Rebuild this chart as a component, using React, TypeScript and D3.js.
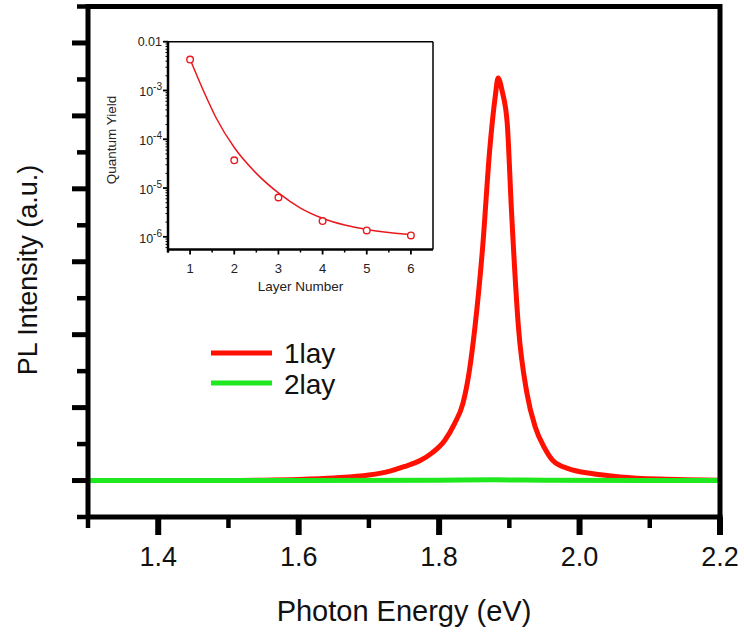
import React from "react";
import * as d3 from "d3";

// Main PL spectra (photon energy in eV, intensity in arbitrary units)
const energy1 = [1.30, 1.40, 1.50, 1.55, 1.60, 1.65, 1.70, 1.73, 1.75, 1.773, 1.79, 1.808, 1.822, 1.834, 1.843, 1.851, 1.862, 1.872, 1.880, 1.884, 1.890, 1.897, 1.903, 1.913, 1.925, 1.937, 1.95, 1.962, 1.985, 2.015, 2.058, 2.115, 2.20];
const intensity1 = [0.0, 0.0, 0.0, 0.005, 0.015, 0.035, 0.075, 0.13, 0.19, 0.275, 0.38, 0.55, 0.78, 1.06, 1.5, 2.1, 3.2, 4.53, 5.27, 5.52, 5.33, 4.9, 3.71, 2.1, 1.2, 0.73, 0.45, 0.275, 0.16, 0.1, 0.05, 0.02, 0.005];
const energy2 = [1.30, 1.60, 1.80, 1.88, 1.95, 2.20];
const intensity2 = [0.0, 0.0, 0.005, 0.01, 0.005, 0.0];
const xTicks = [1.3, 1.4, 1.5, 1.6, 1.7, 1.8, 1.9, 2.0, 2.1, 2.2];
const xTickLabels = ["", "1.4", "", "1.6", "", "1.8", "", "2.0", "", "2.2"];
const yTicks = [-0.5, 0, 0.5, 1, 1.5, 2, 2.5, 3, 3.5, 4, 4.5, 5, 5.5, 6, 6.5];
const legendNames = ["1lay", "2lay"];

// Inset: quantum yield vs layer number
const layers = [1, 2, 3, 4, 5, 6];
const quantumYield = [4.3e-3, 3.7e-5, 6.4e-6, 2.1e-6, 1.35e-6, 1.07e-6];
const fitLayers = [1.0, 1.3, 1.6, 2.0, 2.5, 3.0, 3.5, 4.0, 4.5, 5.0, 5.5, 6.0];
const fitYield = [4.37e-3, 1.0e-3, 2.63e-4, 6.76e-5, 2.0e-5, 7.94e-6, 3.89e-6, 2.4e-6, 1.74e-6, 1.41e-6, 1.23e-6, 1.12e-6];
const insetXTicks = [1, 2, 3, 4, 5, 6];
const insetYMajor = [1e-6, 1e-5, 1e-4, 1e-3, 1e-2];
const insetYLabels = ["-6", "-5", "-4", "-3", "0.01"];

const FONT = "'Liberation Sans', Arial, Helvetica, sans-serif";
const RED = "#ff1000";
const GREEN = "#1fe81f";

export default function App() {
  const x = d3.scaleLinear().domain([1.3, 2.2]).range([88, 720]);
  const y = d3.scaleLinear().domain([-0.5, 6.5]).range([517, 6.5]);

  const s1 = energy1.map((e, i) => [e, intensity1[i]] as [number, number]);
  const s2 = energy2.map((e, i) => [e, intensity2[i]] as [number, number]);
  const line = d3
    .line<[number, number]>()
    .x((d) => x(d[0]))
    .y((d) => y(d[1]))
    .curve(d3.curveMonotoneX);

  // inset scales
  const ix = d3.scaleLinear().domain([0.5, 6.5]).range([168, 433]);
  const iy = d3.scaleLog().domain([Math.pow(10, -6.26), 0.01]).range([249.5, 41.7]);
  const fitPts = fitLayers.map((l, i) => [l, fitYield[i]] as [number, number]);
  const fitLine = d3
    .line<[number, number]>()
    .x((d) => ix(d[0]))
    .y((d) => iy(d[1]))
    .curve(d3.curveMonotoneX);

  const insetMinorY: number[] = [];
  for (let e = -7; e <= -3; e++) {
    for (let k = 2; k <= 9; k++) {
      const v = k * Math.pow(10, e);
      if (v >= iy.domain()[0] && v <= 0.01) insetMinorY.push(v);
    }
  }
  const insetMinorX = [0.5, 1.5, 2.5, 3.5, 4.5, 5.5];

  return (
    <svg
      width={744}
      height={635}
      style={{ position: "absolute", left: 0, top: 0, background: "#fff" }}
      fontFamily={FONT}
    >
      <rect x={0} y={0} width={744} height={635} fill="#fff" />

      {/* series */}
      <path d={line(s1) || ""} fill="none" stroke={RED} strokeWidth={5} strokeLinejoin="round" />
      <path d={line(s2) || ""} fill="none" stroke={GREEN} strokeWidth={5} />

      {/* frame */}
      <line x1={x(1.3)} x2={x(2.2)} y1={y(6.5)} y2={y(6.5)} stroke="#000" strokeWidth={5} />
      <line x1={x(2.2)} x2={x(2.2)} y1={y(6.5) - 2.5} y2={y(-0.5)} stroke="#000" strokeWidth={5} />
      <line x1={x(1.3)} x2={x(2.2) + 2.5} y1={y(-0.5)} y2={y(-0.5)} stroke="#000" strokeWidth={5} />
      <line x1={x(1.3)} x2={x(1.3)} y1={y(6.5) - 2.5} y2={y(-0.5)} stroke="#000" strokeWidth={5} />

      {/* x ticks */}
      {xTicks.map((t, i) => {
        const major = xTickLabels[i] !== "" || Math.abs(t - 2.2) < 1e-9;
        return (
          <g key={"xt" + i}>
            <line
              x1={x(t)}
              x2={x(t)}
              y1={y(-0.5)}
              y2={y(-0.5) + (major ? 18 : 11)}
              stroke="#000"
              strokeWidth={major ? 6 : 4.5}
            />
            {xTickLabels[i] && (
              <text x={x(t)} y={566} textAnchor="middle" fontSize={27} fill="#111">
                {xTickLabels[i]}
              </text>
            )}
          </g>
        );
      })}

      {/* y ticks */}
      {yTicks.map((t, i) => {
        const major = Number.isInteger(t);
        return (
          <line
            key={"yt" + i}
            x1={x(1.3)}
            x2={x(1.3) - (major ? 16 : 11)}
            y1={y(t)}
            y2={y(t)}
            stroke="#000"
            strokeWidth={major ? 5 : 4.5}
          />
        );
      })}

      {/* axis titles */}
      <text x={404} y={621} textAnchor="middle" fontSize={29} fill="#111">
        Photon Energy (eV)
      </text>
      <text transform="translate(37,270) rotate(-90)" textAnchor="middle" fontSize={27} fill="#111">
        PL Intensity (a.u.)
      </text>

      {/* legend */}
      {legendNames.map((n, i) => (
        <g key={n}>
          <line x1={211} x2={272} y1={353 + i * 30} y2={353 + i * 30} stroke={i === 0 ? RED : GREEN} strokeWidth={5} />
          <text x={284} y={363 + i * 31} fontSize={28} fill="#111">
            {n}
          </text>
        </g>
      ))}

      {/* inset */}
      <g>
        <path d={fitLine(fitPts) || ""} fill="none" stroke="#e8191e" strokeWidth={1.5} />
        {layers.map((l, i) => (
          <circle key={"c" + i} cx={ix(l)} cy={iy(quantumYield[i])} r={3.3} fill="#fff" stroke="#e8191e" strokeWidth={1.4} />
        ))}
        {/* frame */}
        <line x1={ix(0.5)} x2={ix(6.5)} y1={iy(0.01)} y2={iy(0.01)} stroke="#000" strokeWidth={1.5} />
        <line x1={ix(6.5)} x2={ix(6.5)} y1={iy(0.01)} y2={iy.range()[0]} stroke="#000" strokeWidth={1.5} />
        <line x1={ix(0.5) - 1} x2={ix(6.5)} y1={iy.range()[0]} y2={iy.range()[0]} stroke="#000" strokeWidth={2.5} />
        <line x1={ix(0.5)} x2={ix(0.5)} y1={iy(0.01) - 0.75} y2={iy.range()[0] + 3} stroke="#000" strokeWidth={2.5} />
        {insetXTicks.map((t) => (
          <g key={"ixt" + t}>
            <line x1={ix(t)} x2={ix(t)} y1={iy.range()[0]} y2={iy.range()[0] + 5} stroke="#000" strokeWidth={1.8} />
            <text x={ix(t)} y={273} textAnchor="middle" fontSize={13} fill="#222">
              {t}
            </text>
          </g>
        ))}
        {insetMinorX.map((t) => (
          <line key={"ixm" + t} x1={ix(t)} x2={ix(t)} y1={iy.range()[0]} y2={iy.range()[0] + 3} stroke="#000" strokeWidth={1.5} />
        ))}
        {insetYMajor.map((v, i) => (
          <g key={"iym" + i}>
            <line x1={ix(0.5)} x2={ix(0.5) - 5} y1={iy(v)} y2={iy(v)} stroke="#000" strokeWidth={1.8} />
            {insetYLabels[i] === "0.01" ? (
              <text x={162} y={iy(v) + 4} textAnchor="end" fontSize={12.5} fill="#222">
                0.01
              </text>
            ) : (
              <text x={162} y={iy(v) + 6} textAnchor="end" fontSize={12.5} fill="#222">
                <tspan>10</tspan>
                <tspan dy={-6} fontSize={10}>
                  {insetYLabels[i]}
                </tspan>
              </text>
            )}
          </g>
        ))}
        {insetMinorY.map((v, i) => (
          <line key={"iyn" + i} x1={ix(0.5)} x2={ix(0.5) - 2.5} y1={iy(v)} y2={iy(v)} stroke="#000" strokeWidth={1} />
        ))}
        <text x={300.5} y={291} textAnchor="middle" fontSize={13.5} fill="#222">
          Layer Number
        </text>
        <text transform="translate(116,140) rotate(-90)" textAnchor="middle" fontSize={13.5} fill="#222">
          Quantum Yield
        </text>
      </g>
    </svg>
  );
}
